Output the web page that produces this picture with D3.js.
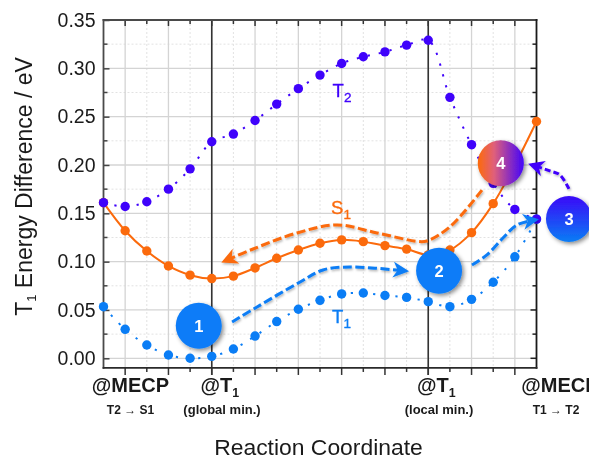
<!DOCTYPE html>
<html>
<head>
<meta charset="utf-8">
<script src="https://cdn.jsdelivr.net/npm/d3@7"></script>
<style>
html, body { margin: 0; padding: 0; background: #fff; overflow: hidden; }
svg { display: block; font-family: "Liberation Sans", Arial, sans-serif; filter: blur(0.4px); }
</style>
</head>
<body>
<div id="chart"></div>
<script>
// Energies, one value per reaction coordinate step
var t2Values = [0.161, 0.157, 0.162, 0.175, 0.196, 0.224, 0.232, 0.246, 0.263, 0.279, 0.293,
    0.305, 0.312, 0.317, 0.324, 0.329, 0.270, 0.221, 0.181, 0.154, 0.144];
var s1Values = [0.161, 0.132, 0.111, 0.0955, 0.086, 0.0825, 0.085, 0.0935, 0.1035, 0.112, 0.119,
    0.1225, 0.1207, 0.1166, 0.113, 0.107, 0.112, 0.130, 0.160, 0.200, 0.245];
var t1Values = [0.0534, 0.030, 0.0138, 0.0034, 0.0, 0.002, 0.0096, 0.023, 0.038, 0.0507, 0.060,
    0.0666, 0.0676, 0.065, 0.063, 0.0586, 0.0534, 0.061, 0.0787, 0.105, 0.144];

var yTicks = [0, 0.05, 0.10, 0.15, 0.20, 0.25, 0.30, 0.35];
var yMinorTicks = [0.025, 0.075, 0.125, 0.175, 0.225, 0.275, 0.325];
var xMajorTicks = [1, 3, 5, 7, 9, 11, 13, 15, 17, 19];
var xMinorTicks = [2, 4, 6, 8, 10, 12, 14, 16, 18];
var stationPoints = [5, 15];

// Dashed arrows, as [coordinate step, energy] pairs
var arrowS1 = [[17.48, 0.174], [16.0, 0.136], [14.94, 0.1214], [14.52, 0.1209], [12.63, 0.1297],
    [10.79, 0.138], [8.94, 0.1297], [6.91, 0.1131], [5.61, 0.1007]];
var arrowT1a = [[5.94, 0.0376], [7.09, 0.0531], [9.08, 0.079], [10.14, 0.0914], [11.39, 0.0945], [13.93, 0.0904]];
var arrowT1b = [[17.02, 0.0966], [17.71, 0.107], [18.45, 0.1245], [19.1, 0.138], [19.93, 0.1432]];
var arrowT2 = [[21.5, 0.1753], [21.08, 0.1898], [20.62, 0.1939], [19.79, 0.2001]];

// Numbered bubbles
var bubbleLabels = ["1", "2", "3", "4"];
var bubbleX = [4.4, 15.5, 21.5, 18.35];
var bubbleY = [0.0337, 0.0907, 0.1442, 0.2019];
var bubbleFills = ["#0a7cf8", "#0a7cf8", "url(#grad3)", "url(#grad4)"];

var orange = "#fb6a0c";
var blue = "#0a7df5";
var purple = "#3f02fb";

var w = 589;
var h = 460;

// Scales
var xScale = d3.scaleLinear().domain([0, 20]).range([103.5, 536.5]);
var yScale = d3.scaleLinear().domain([0, 0.35]).range([358.3, 20]);
var yBottom = yScale(-0.01);

var svg = d3.select("#chart").append("svg")
    .attr("width", w)
    .attr("height", h);

var defs = svg.append("defs");

// Gradients for bubbles 3 and 4
var grad3 = defs.append("linearGradient").attr("id", "grad3")
    .attr("x1", 0).attr("y1", 0).attr("x2", 0).attr("y2", 1);
grad3.append("stop").attr("offset", "0%").attr("stop-color", "#3a08f8");
grad3.append("stop").attr("offset", "100%").attr("stop-color", "#0a7df5");

var grad4 = defs.append("linearGradient").attr("id", "grad4")
    .attr("x1", 0).attr("y1", 0).attr("x2", 1).attr("y2", 0);
grad4.append("stop").attr("offset", "0%").attr("stop-color", "#fd6a0a");
grad4.append("stop").attr("offset", "35%").attr("stop-color", "#e0607a");
grad4.append("stop").attr("offset", "100%").attr("stop-color", "#4203fa");

// Drop shadows
var shadow = defs.append("filter").attr("id", "shadow")
    .attr("x", "-30%").attr("y", "-30%").attr("width", "170%").attr("height", "170%");
shadow.append("feDropShadow").attr("dx", 2).attr("dy", 2).attr("stdDeviation", 2)
    .attr("flood-color", "#000").attr("flood-opacity", 0.45);

var arrowShadow = defs.append("filter").attr("id", "arrowShadow")
    .attr("x", "-10%").attr("y", "-30%").attr("width", "120%").attr("height", "170%");
arrowShadow.append("feDropShadow").attr("dx", 1).attr("dy", 1.5).attr("stdDeviation", 0.8)
    .attr("flood-color", "#000").attr("flood-opacity", 0.3);

// Arrow heads
[["headOrange", orange], ["headBlue", blue], ["headPurple", purple]].forEach(function(m) {
    defs.append("marker").attr("id", m[0])
        .attr("viewBox", "0 0 12 12")
        .attr("refX", 9).attr("refY", 6)
        .attr("markerWidth", 16).attr("markerHeight", 16)
        .attr("markerUnits", "userSpaceOnUse")
        .attr("orient", "auto")
        .append("path")
        .attr("d", "M0,0 L12,6 L0,12 L3.5,6 Z")
        .attr("fill", m[1]);
});

// Grid lines
function vGrid(values, color, width, dash) {
    svg.append("g").selectAll("line").data(values).enter().append("line")
        .attr("x1", function(d) { return xScale(d); })
        .attr("x2", function(d) { return xScale(d); })
        .attr("y1", yScale(0.35))
        .attr("y2", yBottom)
        .attr("stroke", color)
        .attr("stroke-width", width)
        .attr("stroke-dasharray", dash);
}
function hGrid(values, color, width, dash) {
    svg.append("g").selectAll("line").data(values).enter().append("line")
        .attr("x1", xScale(0))
        .attr("x2", xScale(20))
        .attr("y1", function(d) { return yScale(d); })
        .attr("y2", function(d) { return yScale(d); })
        .attr("stroke", color)
        .attr("stroke-width", width)
        .attr("stroke-dasharray", dash);
}
vGrid(xMinorTicks, "#e2e2e2", 1, "2 2");
hGrid(yMinorTicks, "#e2e2e2", 1, "2 2");
vGrid(xMajorTicks, "#d4d4d4", 1.3, null);
hGrid(yTicks, "#d4d4d4", 1.3, null);

// Left axis with its labels
var yAxis = svg.append("g")
    .attr("transform", "translate(" + xScale(0) + ",0)")
    .call(d3.axisLeft(yScale).tickValues(yTicks).tickSize(-6).tickPadding(8).tickFormat(d3.format(".2f")));
yAxis.select(".domain").remove();
yAxis.selectAll("line").attr("stroke", "#444").attr("stroke-width", 1.5);
yAxis.selectAll("text").attr("font-size", 19.5).attr("fill", "#1a1a1a")
    .attr("font-family", "Liberation Sans");

// The remaining inward and outward ticks
function tickMarks(values, horizontal, pos, len, color) {
    svg.append("g").selectAll("line").data(values).enter().append("line")
        .attr("x1", function(d) { return horizontal ? xScale(d) : pos; })
        .attr("x2", function(d) { return horizontal ? xScale(d) : pos + len; })
        .attr("y1", function(d) { return horizontal ? pos : yScale(d); })
        .attr("y2", function(d) { return horizontal ? pos + len : yScale(d); })
        .attr("stroke", color)
        .attr("stroke-width", 1.5);
}
tickMarks(yMinorTicks, false, xScale(0), 4, "#444");
tickMarks(yTicks, false, xScale(20), -6, "#222");
tickMarks(yMinorTicks, false, xScale(20), -4, "#222");
tickMarks(xMajorTicks, true, yScale(0.35), 6, "#333");
tickMarks(xMinorTicks, true, yScale(0.35), 4, "#333");
tickMarks(xMajorTicks, true, yBottom, 7, "#333");
tickMarks(xMinorTicks, true, yBottom, 4, "#333");

// Vertical lines at the two T1 minima
svg.append("g").selectAll("line").data(stationPoints).enter().append("line")
    .attr("x1", function(d) { return xScale(d); })
    .attr("x2", function(d) { return xScale(d); })
    .attr("y1", yScale(0.35))
    .attr("y2", yBottom + 7)
    .attr("stroke", "#333")
    .attr("stroke-width", 1.6);

// Frame
var frame = [
    [xScale(0), yScale(0.35), xScale(20), yScale(0.35), "#4a4a4a"],
    [xScale(0), yScale(0.35), xScale(0), yBottom, "#4a4a4a"],
    [xScale(20), yScale(0.35), xScale(20), yBottom, "#1a1a1a"],
    [xScale(0), yBottom, xScale(20), yBottom, "#2a2a2a"]
];
svg.append("g").selectAll("line").data(frame).enter().append("line")
    .attr("x1", function(d) { return d[0]; })
    .attr("y1", function(d) { return d[1]; })
    .attr("x2", function(d) { return d[2]; })
    .attr("y2", function(d) { return d[3]; })
    .attr("stroke", function(d) { return d[4]; })
    .attr("stroke-width", 1.8)
    .attr("stroke-linecap", "square");

// Draw one series: line first, then the dots
function drawSeries(values, color, dash, lineWidth) {
    var line = d3.line()
        .x(function(d, i) { return xScale(i); })
        .y(function(d) { return yScale(d); })
        .curve(d3.curveCatmullRom.alpha(0.5));
    svg.append("path")
        .attr("d", line(values))
        .attr("fill", "none")
        .attr("stroke", color)
        .attr("stroke-width", lineWidth)
        .attr("stroke-dasharray", dash);
    svg.append("g").selectAll("circle").data(values).enter().append("circle")
        .attr("cx", function(d, i) { return xScale(i); })
        .attr("cy", function(d) { return yScale(d); })
        .attr("r", 4.7)
        .attr("fill", color);
}
drawSeries(s1Values, orange, null, 2);
drawSeries(t1Values, blue, "2.2 9", 2);
drawSeries(t2Values, purple, "2.2 9", 2);

// Dashed arrows
function drawArrow(points, color, head, dash, width) {
    var line = d3.line()
        .x(function(d) { return xScale(d[0]); })
        .y(function(d) { return yScale(d[1]); })
        .curve(d3.curveCatmullRom.alpha(0.5));
    svg.append("path")
        .attr("d", line(points))
        .attr("fill", "none")
        .attr("stroke", color)
        .attr("stroke-width", width)
        .attr("stroke-dasharray", dash)
        .attr("marker-end", "url(#" + head + ")")
        .attr("filter", "url(#arrowShadow)");
}
drawArrow(arrowS1, orange, "headOrange", "9 3.5", 3);
drawArrow(arrowT1a, blue, "headBlue", "9 3.5", 3);
drawArrow(arrowT1b, blue, "headBlue", "9 3.5", 3);
drawArrow(arrowT2, purple, "headPurple", "6 3", 3);

// Numbered bubbles
var bubbles = svg.append("g").selectAll("g").data(bubbleLabels).enter().append("g")
    .attr("transform", function(d, i) {
        return "translate(" + xScale(bubbleX[i]) + "," + yScale(bubbleY[i]) + ")";
    });
bubbles.append("circle")
    .attr("r", 23)
    .attr("fill", function(d, i) { return bubbleFills[i]; })
    .attr("filter", "url(#shadow)");
bubbles.append("text")
    .attr("text-anchor", "middle")
    .attr("y", 6)
    .attr("font-size", 16.5)
    .attr("font-weight", "bold")
    .attr("fill", "#fff")
    .text(function(d) { return d; });

// Text with a subscript
function subText(x, y, main, sub, size, subSize, color, weight) {
    var t = svg.append("text")
        .attr("x", x).attr("y", y)
        .attr("text-anchor", "middle")
        .attr("font-size", size)
        .attr("font-weight", weight)
        .attr("fill", color);
    t.append("tspan").text(main);
    t.append("tspan").attr("dy", size * 0.25).attr("font-size", subSize).text(sub);
    return t;
}
subText(342, 97, "T", "2", 18.5, 13.5, purple, "normal").attr("stroke", purple).attr("stroke-width", 0.35);
subText(341, 214, "S", "1", 18.5, 13.5, orange, "normal").attr("stroke", orange).attr("stroke-width", 0.35);
subText(341.5, 323, "T", "1", 18.5, 13.5, blue, "normal").attr("stroke", blue).attr("stroke-width", 0.35);

// Bottom labels
subText(xScale(5) + 8, 392, "@T", "1", 20, 12.4, "#1a1a1a", "bold");
subText(xScale(15) + 8, 392, "@T", "1", 20, 12.4, "#1a1a1a", "bold");

var bottomLabels = [
    ["@MECP", 130.5, 392, 20],
    ["@MECP", 560, 392, 20],
    ["T2 \u2192 S1", 130.5, 414, 12],
    ["(global min.)", 222, 414, 13],
    ["(local min.)", 439, 414, 13],
    ["T1 \u2192 T2", 556, 414, 12]
];
svg.append("g").selectAll("text").data(bottomLabels).enter().append("text")
    .attr("x", function(d) { return d[1]; })
    .attr("y", function(d) { return d[2]; })
    .attr("font-size", function(d) { return d[3]; })
    .attr("text-anchor", "middle")
    .attr("font-weight", "bold")
    .attr("fill", "#1a1a1a")
    .text(function(d) { return d[0]; });

// Axis titles
svg.append("text")
    .attr("x", 318.5)
    .attr("y", 455)
    .attr("text-anchor", "middle")
    .attr("font-size", 22.9)
    .attr("fill", "#1a1a1a")
    .text("Reaction Coordinate");

var yTitle = svg.append("text")
    .attr("transform", "translate(32,186.5) rotate(-90)")
    .attr("text-anchor", "middle")
    .attr("font-size", 23)
    .attr("fill", "#1a1a1a");
yTitle.append("tspan").text("T");
yTitle.append("tspan").attr("dy", 4).attr("font-size", 13).text("1");
yTitle.append("tspan").attr("dy", -4).text(" Energy Difference / eV");
</script>
</body>
</html>
